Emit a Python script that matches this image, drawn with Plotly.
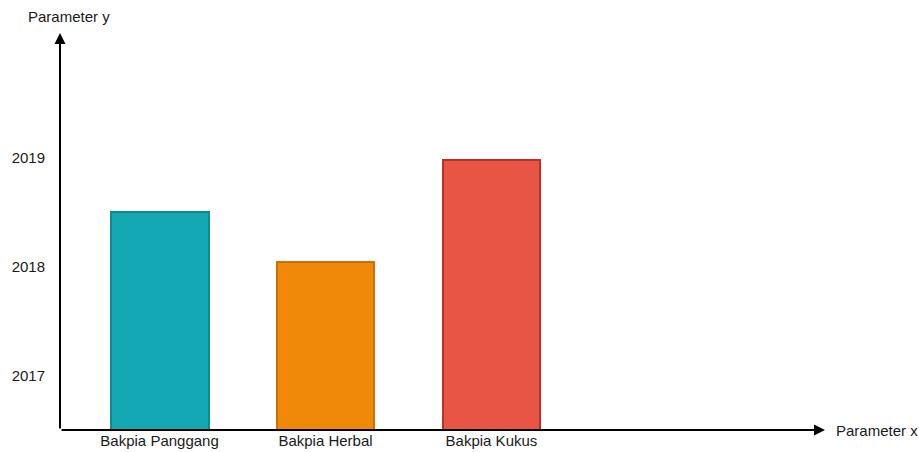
import plotly.graph_objects as go

categories = ["Bakpia Panggang", "Bakpia Herbal", "Bakpia Kukus"]
values = [2018.5, 2018.05, 2018.98]
tick_vals = [2017, 2018, 2019]
fill_colors = ["#14A8B5", "#F0880A", "#E85545"]
line_colors = ["#0E8A93", "#CC6F06", "#B93225"]

W, H = 919, 452
L, R, T, B = 60, 94, 35, 22

font = dict(family="Liberation Sans, Arial, sans-serif", size=15, color="#1a1a1a")

fig = go.Figure()
fig.add_trace(go.Bar(
    x=categories, y=values, width=0.59,
    marker=dict(color=fill_colors, line=dict(color=line_colors, width=2)),
    showlegend=False, hoverinfo="x+y",
))

fig.update_layout(
    width=W, height=H,
    margin=dict(l=L, r=R, t=T, b=B, pad=0, autoexpand=False),
    paper_bgcolor="white", plot_bgcolor="white",
    font=font,
    xaxis=dict(range=[-0.6, 4.01], showgrid=False, zeroline=False, showline=False,
               ticks="", tickfont=font, ticklabelstandoff=0, automargin=False),
    yaxis=dict(range=[2016.505, 2020.128], showgrid=False, zeroline=False, showline=False,
               tickvals=tick_vals, ticktext=[str(v) for v in tick_vals],
               ticks="", tickfont=font, ticklabelstandoff=14, automargin=False),
    bargap=0,
)

# axes with arrows
fig.add_annotation(xref="paper", yref="paper", x=0, y=1.005, ax=0, ay=H - T - B + 2,
                   axref="pixel", ayref="pixel", text="", showarrow=True,
                   arrowhead=2, arrowsize=1.1, arrowwidth=2, arrowcolor="black", standoff=0)
fig.add_annotation(xref="paper", yref="paper", x=1, y=0, ax=-(W - L - R), ay=0,
                   axref="pixel", ayref="pixel", text="", showarrow=True,
                   arrowhead=2, arrowsize=1.1, arrowwidth=2, arrowcolor="black", standoff=0)

fig.add_annotation(xref="paper", yref="paper", x=-0.044, y=1.0456, xanchor="left", yanchor="middle",
                   text="Parameter y", showarrow=False, font=font)
fig.add_annotation(xref="paper", yref="paper", x=1.012, y=0, xanchor="left", yanchor="middle",
                   text="Parameter x", showarrow=False, font=font)

fig.write_html("out.html")
